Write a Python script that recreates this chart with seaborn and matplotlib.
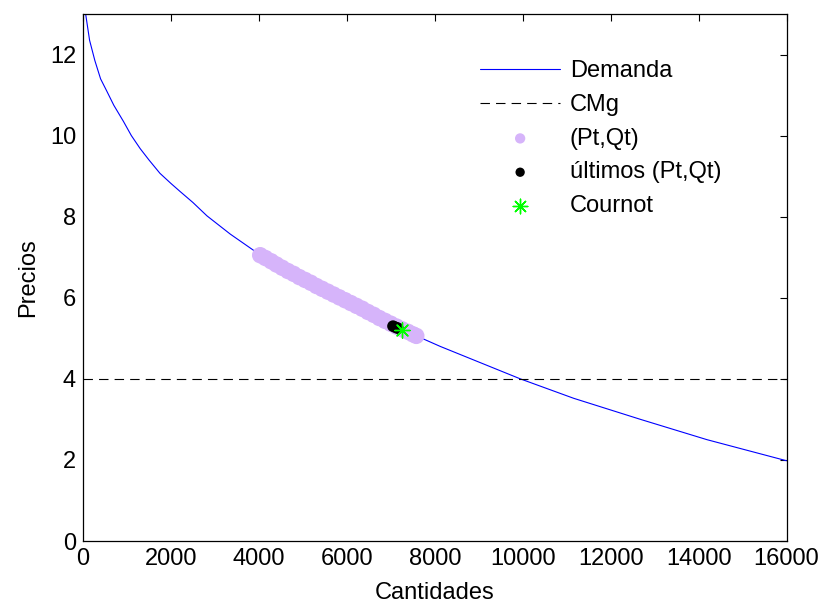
import matplotlib
matplotlib.use("Agg")
import matplotlib.pyplot as plt
import seaborn as sns

# Demand curve
demand_q = [0, 60, 150, 270, 400, 540, 700, 920, 1100, 1300, 1500, 1750, 2000, 2210,
            2500, 2820, 3350, 3880, 4560, 5470, 6400, 7250, 8125, 9035, 9945, 11160,
            12680, 14190, 15860, 16000]
demand_p = [13.6, 13.0, 12.35, 11.85, 11.4, 11.1, 10.75, 10.35, 10.0, 9.68, 9.4, 9.07,
            8.82, 8.62, 8.35, 8.02, 7.57, 7.17, 6.72, 6.2, 5.68, 5.22, 4.8, 4.4, 4.0,
            3.52, 3.0, 2.5, 2.02, 1.98]

# Marginal cost
cmg_q = [0, 16000]
cmg_p = [4, 4]

# (Pt, Qt) iterations
pt_q = [4030, 4150, 4280, 4400, 4530, 4660, 4790, 4920, 5050, 5180, 5310, 5440,
        5570, 5700, 5830, 5960, 6090, 6220, 6350, 6480, 6610, 6740, 6870, 7000,
        7130, 7260, 7390, 7500, 7580]
pt_p = [7.05, 6.98, 6.90, 6.82, 6.74, 6.66, 6.59, 6.51, 6.44, 6.37, 6.29, 6.22,
        6.15, 6.08, 6.01, 5.94, 5.87, 5.80, 5.73, 5.65, 5.58, 5.50, 5.43, 5.36,
        5.29, 5.22, 5.16, 5.10, 5.06]

# last (Pt, Qt)
last_q = [7050, 7110, 7160]
last_p = [5.30, 5.27, 5.25]

# Cournot equilibrium
cournot_q = [7258]
cournot_p = [5.21]

sns.set_style("white")
plt.rcParams['font.family'] = ['Liberation Sans', 'DejaVu Sans']
plt.rcParams['text.color'] = 'black'
plt.rcParams['axes.labelcolor'] = 'black'
plt.rcParams['xtick.color'] = 'black'
plt.rcParams['ytick.color'] = 'black'

FS = 17
fig = plt.figure(figsize=(8.26, 6.08), dpi=100)
ax = fig.add_axes([83/826, 1-541/608, (786.5-83)/826, (541-14)/608])

sns.lineplot(x=demand_q, y=demand_p, ax=ax, color='#0000FF', linewidth=0.8,
             sort=False, estimator=None, label='Demanda')
sns.lineplot(x=cmg_q, y=cmg_p, ax=ax, color='black', linewidth=0.8,
             sort=False, estimator=None, label='CMg', linestyle=(0, (8.5, 5.5)))
sns.scatterplot(x=pt_q, y=pt_p, ax=ax, color='#D6B4FA', s=140, edgecolor='none',
                label='(Pt,Qt)', zorder=3)
sns.scatterplot(x=last_q, y=last_p, ax=ax, color='black', s=70, edgecolor='none',
                label='últimos (Pt,Qt)', zorder=4)
sns.scatterplot(x=cournot_q, y=cournot_p, ax=ax, color='#00FF00', s=120,
                marker=(8, 2, 0), linewidth=1.0, label='Cournot', zorder=5)

ax.set_xlim(0, 16000)
ax.set_ylim(0, 13)
ax.set_xticks(range(0, 16001, 2000))
ax.set_yticks(range(0, 13, 2))
ax.set_xlabel('Cantidades', fontsize=FS, labelpad=9, color='black')
ax.set_ylabel('Precios', fontsize=FS, labelpad=8, color='black')
ax.tick_params(direction='in', top=True, right=True, length=5, width=0.8,
               labelsize=FS, pad=5, colors='black')
for sp in ax.spines.values():
    sp.set_visible(True)
    sp.set_color('black')
    sp.set_linewidth(0.9)

leg = ax.legend(loc='upper left', bbox_to_anchor=((480-83)/703.5, (541-60)/527),
                frameon=False, fontsize=FS, handlelength=3.4, handletextpad=0.4,
                labelspacing=0.5, borderaxespad=0, borderpad=0)
for t in leg.get_texts():
    t.set_color('black')
hs = leg.legend_handles
hs[2].set_sizes([55])
hs[3].set_sizes([45])
hs[4].set_sizes([110])

fig.savefig('out.png', dpi=100)
